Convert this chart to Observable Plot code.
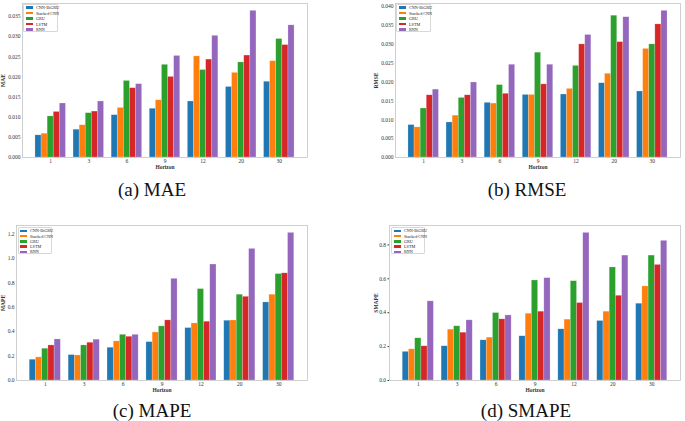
<!DOCTYPE html>
<html>
<head>
<meta charset="utf-8">
<script src="https://cdn.jsdelivr.net/npm/d3@7"></script>
<script src="https://cdn.jsdelivr.net/npm/@observablehq/plot@0.6"></script>
<style>
html, body { margin: 0; padding: 0; background: #fff; }
#wrap { position: relative; width: 685px; height: 421px; overflow: hidden; font-family: "Liberation Serif", "Times New Roman", "DejaVu Serif", serif; }
.panel { position: absolute; }
.caption { position: absolute; font-family: "Liberation Serif", "Times New Roman", serif; font-size: 19px; color: #111; transform: translate(-50%, -50%); white-space: nowrap; }
.legend { position: absolute; background: #fff; border: 0.6px solid #d8d8d8; border-radius: 1px; box-sizing: border-box; }
.legend .row { position: absolute; left: 0; white-space: nowrap; font-family: "Liberation Serif", "Times New Roman", "DejaVu Serif", serif; color: #222; }
.legend .sw { position: absolute; height: 2.6px; }
.legend .lb { position: absolute; }
svg text { font-family: "Liberation Serif", "Times New Roman", "DejaVu Serif", serif; }
svg [aria-label="y-axis label"], svg [aria-label="x-axis label"] { font-weight: bold; }
</style>
</head>
<body>
<div id="wrap"></div>
<script>
// ---- data ----
const horizons = ["1", "3", "6", "9", "12", "20", "30"];
const models = ["CNN-BiGRU", "Stacked CNN", "GRU", "LSTM", "RNN"];
const colors = ["#1f77b4", "#ff7f0e", "#2ca02c", "#d62728", "#9467bd"];

// rows: CNN-BiGRU, Stacked CNN, GRU, LSTM, RNN ; columns: horizons
const mae = [
  [0.0055, 0.0069, 0.0105, 0.0121, 0.0139, 0.0175, 0.0188],
  [0.0059, 0.0080, 0.0123, 0.0142, 0.0251, 0.0210, 0.0239],
  [0.0102, 0.0110, 0.0190, 0.0230, 0.0217, 0.0236, 0.0294],
  [0.0113, 0.0114, 0.0172, 0.0200, 0.0243, 0.0253, 0.0279],
  [0.0134, 0.0139, 0.0182, 0.0252, 0.0302, 0.0364, 0.0328]
];
const rmse = [
  [0.0086, 0.0093, 0.0145, 0.0166, 0.0167, 0.0197, 0.0175],
  [0.0080, 0.0111, 0.0143, 0.0166, 0.0182, 0.0222, 0.0288],
  [0.0130, 0.0158, 0.0192, 0.0278, 0.0243, 0.0376, 0.0300],
  [0.0165, 0.0165, 0.0169, 0.0194, 0.0300, 0.0306, 0.0353],
  [0.0180, 0.0199, 0.0246, 0.0246, 0.0325, 0.0372, 0.0389]
];
const mape = [
  [0.170, 0.208, 0.268, 0.314, 0.429, 0.489, 0.639],
  [0.189, 0.205, 0.320, 0.393, 0.467, 0.491, 0.702],
  [0.260, 0.287, 0.374, 0.443, 0.748, 0.702, 0.871],
  [0.287, 0.309, 0.358, 0.492, 0.481, 0.685, 0.877],
  [0.336, 0.334, 0.374, 0.832, 0.949, 1.077, 1.208]
];
const smape = [
  [0.169, 0.202, 0.237, 0.261, 0.302, 0.351, 0.453],
  [0.184, 0.300, 0.253, 0.394, 0.359, 0.406, 0.555],
  [0.249, 0.320, 0.398, 0.590, 0.586, 0.667, 0.737],
  [0.202, 0.282, 0.361, 0.406, 0.457, 0.500, 0.682],
  [0.467, 0.355, 0.384, 0.604, 0.871, 0.737, 0.824]
];

const maeTicks = [0, 0.005, 0.010, 0.015, 0.020, 0.025, 0.030, 0.035];
const rmseTicks = [0, 0.005, 0.010, 0.015, 0.020, 0.025, 0.030, 0.035, 0.040];
const mapeTicks = [0, 0.2, 0.4, 0.6, 0.8, 1.0, 1.2];
const smapeTicks = [0, 0.2, 0.4, 0.6, 0.8];

// ---- layout ----
const panels = [
  {values: mae, ticks: maeTicks, fmt: ".3f", label: "MAE", caption: "(a) MAE",
   left: 0, top: 0, width: 312, height: 175, mL: 22, mR: 5, mT: 3, mB: 18, labelOffset: 21, tickSize: 0,
   cap: [152, 189.5], leg: {left: 23, top: 4, w: 35, h: 28, sw: 2, tx: 12, r0: 2.7, step: 5.5}},
  {values: rmse, ticks: rmseTicks, fmt: ".3f", label: "RMSE", caption: "(b) RMSE",
   left: 340, top: 0, width: 345, height: 175, mL: 55, mR: 5, mT: 3, mB: 18, labelOffset: 21, tickSize: 0,
   cap: [527, 189.5], leg: {left: 396, top: 4, w: 35, h: 28, sw: 2, tx: 12, r0: 2.7, step: 5.5}},
  {values: mape, ticks: mapeTicks, fmt: ".1f", label: "MAPE", caption: "(c) MAPE",
   left: 0, top: 210, width: 312, height: 185, mL: 16, mR: 5, mT: 15, mB: 15, labelOffset: 15, tickSize: 0,
   cap: [152, 410.5], leg: {left: 18, top: 227, w: 34, h: 27, sw: 1, tx: 11, r0: 3, step: 5.2}},
  {values: smape, ticks: smapeTicks, fmt: ".1f", label: "SMAPE", caption: "(d) SMAPE",
   left: 340, top: 210, width: 345, height: 185, mL: 49, mR: 5, mT: 15, mB: 15, labelOffset: 15, tickSize: 1.5,
   cap: [526, 410.5], leg: {left: 391, top: 227, w: 34, h: 27, sw: 2, tx: 12, r0: 3, step: 5.2}}
];

const bw = 0.16; // bar width in category units (5 bars -> 0.8 group)
const wrap = d3.select("#wrap");
const serif = "Liberation Serif, Times New Roman, DejaVu Serif, serif";

for (const p of panels) {
  const rows = [];
  models.forEach((m, j) => horizons.forEach((h, i) => rows.push({model: m, j, i, horizon: h, value: p.values[j][i]})));
  const ymax = d3.max(rows, d => d.value) * 1.05;
  const n = horizons.length;
  const pad = 0.34 + 0.4; // matplotlib-like margins
  const svg = Plot.plot({
    width: p.width, height: p.height,
    marginLeft: p.mL, marginRight: p.mR, marginTop: p.mT, marginBottom: p.mB,
    style: {fontFamily: serif, fontSize: "5.5px", color: "#333", background: "transparent", overflow: "visible"},
    x: {domain: [-pad, n - 1 + pad]},
    y: {domain: [0, ymax]},
    color: {domain: models, range: colors},
    marks: [
      Plot.rectY(rows, {
        x1: d => d.i + (d.j - 2.5) * bw,
        x2: d => d.i + (d.j - 1.5) * bw,
        y1: 0, y2: "value", fill: "model",
        stroke: "white", strokeOpacity: 0.35, strokeWidth: 0.6
      }),
      Plot.frame({stroke: "#c4c4c4", strokeWidth: 0.8}),
      Plot.axisX({ticks: d3.range(n), tickFormat: i => horizons[i], tickSize: 0, tickPadding: 1.5,
        label: "Horizon", labelAnchor: "center", labelArrow: "none", labelOffset: 11}),
      Plot.axisY({ticks: p.ticks, tickFormat: d3.format(p.fmt), tickSize: p.tickSize, tickPadding: 2,
        label: p.label, labelAnchor: "center", labelArrow: "none", labelOffset: p.labelOffset})
    ]
  });
  wrap.append("div").attr("class", "panel")
    .style("left", p.left + "px").style("top", p.top + "px")
    .node().appendChild(svg);

  // legend (upper left, inside the axes)
  const L = p.leg;
  const leg = wrap.append("div").attr("class", "legend")
    .style("left", L.left + "px").style("top", L.top + "px")
    .style("width", L.w + "px").style("height", L.h + "px");
  models.forEach((m, k) => {
    const row = leg.append("div").attr("class", "row")
      .style("top", (L.r0 + k * L.step) + "px");
    row.append("span").attr("class", "sw")
      .style("left", L.sw + "px").style("top", "-1.3px").style("width", "7px")
      .style("background", colors[k]);
    row.append("span").attr("class", "lb")
      .style("left", L.tx + "px").style("top", "-2.6px")
      .style("font-size", "4.2px").style("line-height", "5px")
      .text(m);
  });

  wrap.append("div").attr("class", "caption")
    .style("left", p.cap[0] + "px").style("top", p.cap[1] + "px")
    .text(p.caption);
}
</script>
</body>
</html>
